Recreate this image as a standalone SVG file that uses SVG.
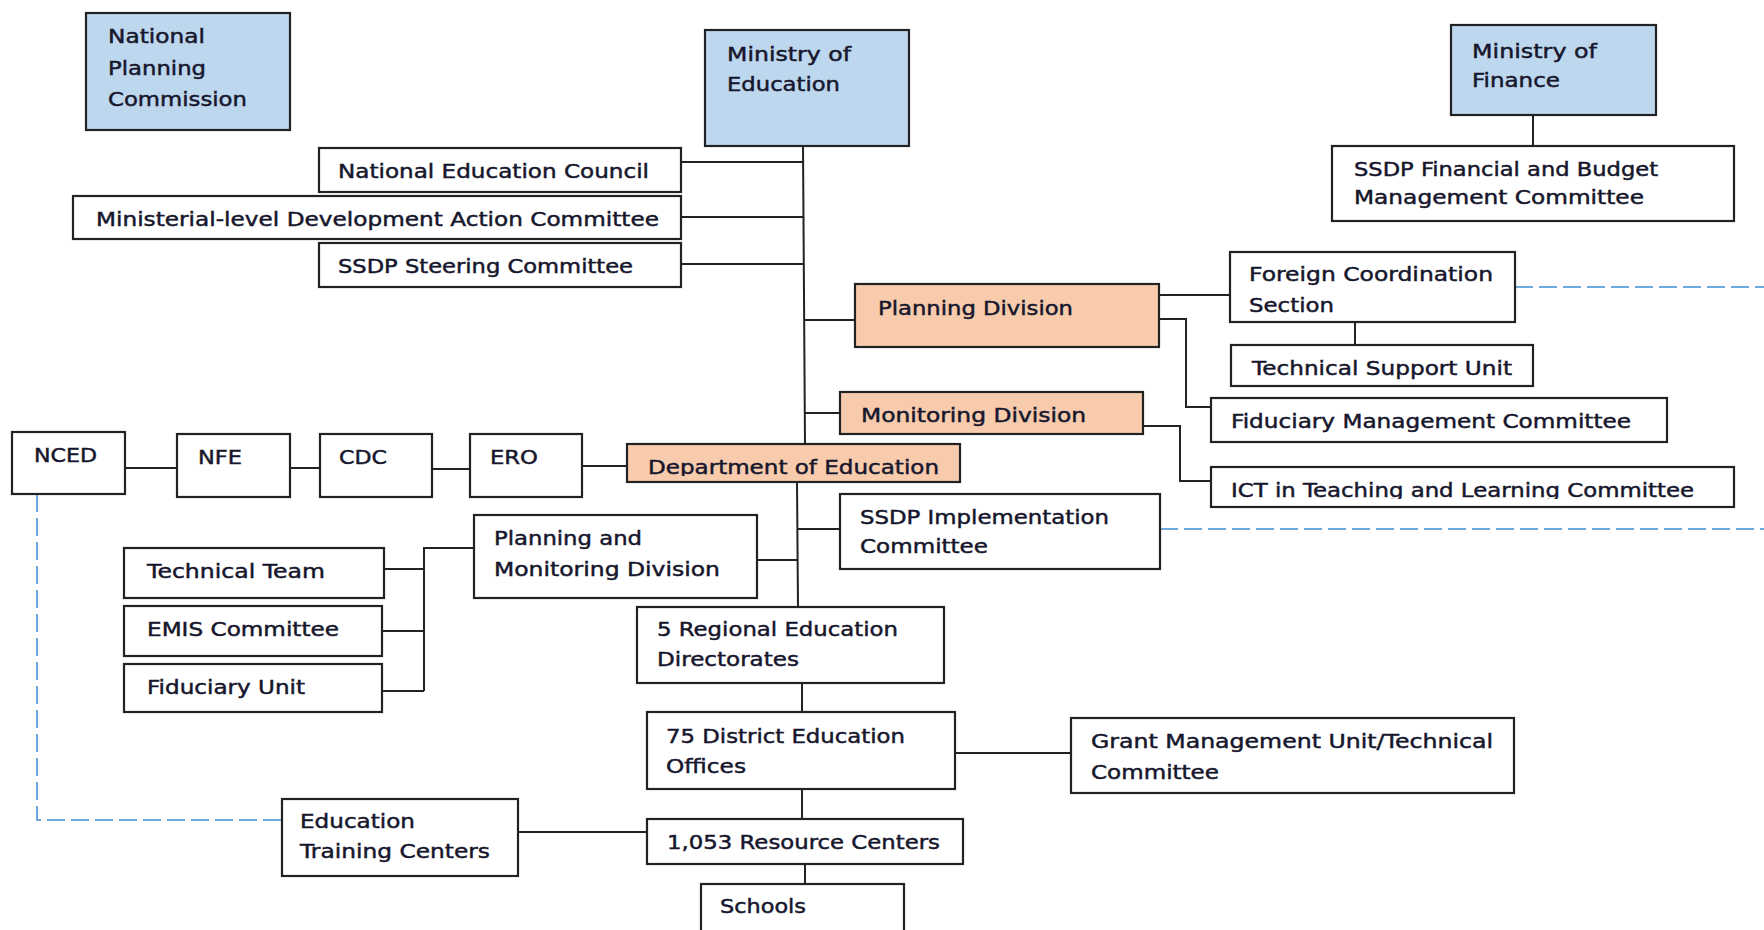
<svg xmlns="http://www.w3.org/2000/svg" width="1764" height="930" viewBox="0 0 1764 930">
<style>
.box{fill:#fff;stroke:#222;stroke-width:2.2}
.blue{fill:#BDD7EE}
.orange{fill:#F8CBAD}
text{font-family:"DejaVu Sans",Verdana,sans-serif;font-size:19px;fill:#16162c;stroke:#16162c;stroke-width:0.45}
.ln{stroke:#222;stroke-width:2;fill:none}
.dash{stroke:#6FA8DC;stroke-width:2;fill:none;stroke-dasharray:18 6}
</style>
<defs>
<clipPath id="clipDoE"><rect x="627" y="444" width="333" height="32"/></clipPath>
<clipPath id="clipICT"><rect x="1211" y="467" width="523" height="32"/></clipPath>
</defs>
<rect width="1764" height="930" fill="#fff"/>
<g id="connectors">
<line class="ln" x1="803" y1="146" x2="805" y2="444"/>
<line class="ln" x1="681" y1="162" x2="803" y2="162"/>
<line class="ln" x1="681" y1="217" x2="803.5" y2="217"/>
<line class="ln" x1="681" y1="264" x2="804" y2="264"/>
<line class="ln" x1="804" y1="320" x2="855" y2="320"/>
<line class="ln" x1="805" y1="413" x2="840" y2="413"/>
<line class="ln" x1="797" y1="482" x2="798" y2="607"/>
<line class="ln" x1="798" y1="529" x2="840" y2="529"/>
<line class="ln" x1="757" y1="560" x2="798" y2="560"/>
<line class="ln" x1="582" y1="466" x2="627" y2="466"/>
<line class="ln" x1="432" y1="469" x2="470" y2="469"/>
<line class="ln" x1="290" y1="468" x2="320" y2="468"/>
<line class="ln" x1="125" y1="468" x2="177" y2="468"/>
<polyline class="ln" points="474,548 424,548 424,691"/>
<line class="ln" x1="383" y1="569" x2="424" y2="569"/>
<line class="ln" x1="381" y1="631" x2="424" y2="631"/>
<line class="ln" x1="381" y1="691" x2="424" y2="691"/>
<line class="ln" x1="1159" y1="295" x2="1230" y2="295"/>
<polyline class="ln" points="1159,319 1186,319 1186,407 1211,407"/>
<line class="ln" x1="1355" y1="322" x2="1355" y2="345"/>
<polyline class="ln" points="1143,426 1180,426 1180,481 1211,481"/>
<line class="ln" x1="1533" y1="115" x2="1533" y2="146"/>
<line class="ln" x1="802" y1="683" x2="802" y2="712"/>
<line class="ln" x1="955" y1="753" x2="1071" y2="753"/>
<line class="ln" x1="802" y1="789" x2="802" y2="819"/>
<line class="ln" x1="518" y1="832" x2="647" y2="832"/>
<line class="ln" x1="805" y1="864" x2="805" y2="884"/>
<line class="dash" x1="1515" y1="287" x2="1764" y2="287"/>
<line class="dash" x1="1160" y1="529" x2="1764" y2="529"/>
<polyline class="dash" points="37,494 37,820 282,820"/>
</g>
<g id="npc"><rect class="box blue" x="86" y="13" width="204" height="117"/>
<text x="108" y="43" textLength="97" lengthAdjust="spacingAndGlyphs">National</text>
<text x="108" y="75" textLength="98" lengthAdjust="spacingAndGlyphs">Planning</text>
<text x="108" y="106" textLength="139" lengthAdjust="spacingAndGlyphs">Commission</text></g>
<g id="moe"><rect class="box blue" x="705" y="30" width="204" height="116"/>
<text x="727" y="61" textLength="124" lengthAdjust="spacingAndGlyphs">Ministry of</text>
<text x="727" y="91" textLength="113" lengthAdjust="spacingAndGlyphs">Education</text></g>
<g id="mof"><rect class="box blue" x="1451" y="25" width="205" height="90"/>
<text x="1472" y="58" textLength="125" lengthAdjust="spacingAndGlyphs">Ministry of</text>
<text x="1472" y="87" textLength="88" lengthAdjust="spacingAndGlyphs">Finance</text></g>
<g id="ssdp-fb"><rect class="box" x="1332" y="146" width="402" height="75"/>
<text x="1354" y="176" textLength="304" lengthAdjust="spacingAndGlyphs">SSDP Financial and Budget</text>
<text x="1354" y="204" textLength="290" lengthAdjust="spacingAndGlyphs">Management Committee</text></g>
<g id="nec"><rect class="box" x="319" y="148" width="362" height="44"/>
<text x="338" y="178" textLength="311" lengthAdjust="spacingAndGlyphs">National Education Council</text></g>
<g id="mldac"><rect class="box" x="73" y="196" width="608" height="43"/>
<text x="96" y="226" textLength="563" lengthAdjust="spacingAndGlyphs">Ministerial-level Development Action Committee</text></g>
<g id="steering"><rect class="box" x="319" y="243" width="362" height="44"/>
<text x="338" y="273" textLength="295" lengthAdjust="spacingAndGlyphs">SSDP Steering Committee</text></g>
<g id="pd"><rect class="box orange" x="855" y="284" width="304" height="63"/>
<text x="878" y="315" textLength="195" lengthAdjust="spacingAndGlyphs">Planning Division</text></g>
<g id="fcs"><rect class="box" x="1230" y="252" width="285" height="70"/>
<text x="1249" y="281" textLength="244" lengthAdjust="spacingAndGlyphs">Foreign Coordination</text>
<text x="1249" y="312" textLength="85" lengthAdjust="spacingAndGlyphs">Section</text></g>
<g id="tsu"><rect class="box" x="1231" y="345" width="302" height="41"/>
<text x="1252" y="375" textLength="260" lengthAdjust="spacingAndGlyphs">Technical Support Unit</text></g>
<g id="fmc"><rect class="box" x="1211" y="398" width="456" height="44"/>
<text x="1231" y="428" textLength="400" lengthAdjust="spacingAndGlyphs">Fiduciary Management Committee</text></g>
<g id="md"><rect class="box orange" x="840" y="392" width="303" height="42"/>
<text x="861" y="422" textLength="225" lengthAdjust="spacingAndGlyphs">Monitoring Division</text></g>
<g id="ict"><rect class="box" x="1211" y="467" width="523" height="40"/>
<text clip-path="url(#clipICT)" x="1231" y="497" textLength="463" lengthAdjust="spacingAndGlyphs">ICT in Teaching and Learning Committee</text></g>
<g id="doe"><rect class="box orange" x="627" y="444" width="333" height="38"/>
<text clip-path="url(#clipDoE)" x="648" y="474" textLength="291" lengthAdjust="spacingAndGlyphs">Department of Education</text></g>
<g id="ssdp-impl"><rect class="box" x="840" y="494" width="320" height="75"/>
<text x="860" y="524" textLength="249" lengthAdjust="spacingAndGlyphs">SSDP Implementation</text>
<text x="860" y="553" textLength="128" lengthAdjust="spacingAndGlyphs">Committee</text></g>
<g id="nced"><rect class="box" x="12" y="432" width="113" height="62"/>
<text x="34" y="462" textLength="63" lengthAdjust="spacingAndGlyphs">NCED</text></g>
<g id="nfe"><rect class="box" x="177" y="434" width="113" height="63"/>
<text x="198" y="464" textLength="44" lengthAdjust="spacingAndGlyphs">NFE</text></g>
<g id="cdc"><rect class="box" x="320" y="434" width="112" height="63"/>
<text x="339" y="464" textLength="48" lengthAdjust="spacingAndGlyphs">CDC</text></g>
<g id="ero"><rect class="box" x="470" y="434" width="112" height="63"/>
<text x="490" y="464" textLength="48" lengthAdjust="spacingAndGlyphs">ERO</text></g>
<g id="pmd"><rect class="box" x="474" y="515" width="283" height="83"/>
<text x="494" y="545" textLength="148" lengthAdjust="spacingAndGlyphs">Planning and</text>
<text x="494" y="576" textLength="226" lengthAdjust="spacingAndGlyphs">Monitoring Division</text></g>
<g id="tt"><rect class="box" x="124" y="548" width="260" height="50"/>
<text x="147" y="578" textLength="178" lengthAdjust="spacingAndGlyphs">Technical Team</text></g>
<g id="emis"><rect class="box" x="124" y="606" width="258" height="50"/>
<text x="147" y="636" textLength="192" lengthAdjust="spacingAndGlyphs">EMIS Committee</text></g>
<g id="fu"><rect class="box" x="124" y="664" width="258" height="48"/>
<text x="147" y="694" textLength="158" lengthAdjust="spacingAndGlyphs">Fiduciary Unit</text></g>
<g id="red"><rect class="box" x="637" y="607" width="307" height="76"/>
<text x="657" y="636" textLength="241" lengthAdjust="spacingAndGlyphs">5 Regional Education</text>
<text x="657" y="666" textLength="142" lengthAdjust="spacingAndGlyphs">Directorates</text></g>
<g id="deo"><rect class="box" x="647" y="712" width="308" height="77"/>
<text x="666" y="743" textLength="239" lengthAdjust="spacingAndGlyphs">75 District Education</text>
<text x="666" y="773" textLength="80" lengthAdjust="spacingAndGlyphs">Offices</text></g>
<g id="gmu"><rect class="box" x="1071" y="718" width="443" height="75"/>
<text x="1091" y="748" textLength="402" lengthAdjust="spacingAndGlyphs">Grant Management Unit/Technical</text>
<text x="1091" y="779" textLength="128" lengthAdjust="spacingAndGlyphs">Committee</text></g>
<g id="rc"><rect class="box" x="647" y="819" width="316" height="45"/>
<text x="667" y="849" textLength="273" lengthAdjust="spacingAndGlyphs">1,053 Resource Centers</text></g>
<g id="schools"><rect class="box" x="701" y="884" width="203" height="50"/>
<text x="720" y="913" textLength="86" lengthAdjust="spacingAndGlyphs">Schools</text></g>
<g id="etc"><rect class="box" x="282" y="799" width="236" height="77"/>
<text x="300" y="828" textLength="115" lengthAdjust="spacingAndGlyphs">Education</text>
<text x="300" y="858" textLength="190" lengthAdjust="spacingAndGlyphs">Training Centers</text></g>
</svg>
